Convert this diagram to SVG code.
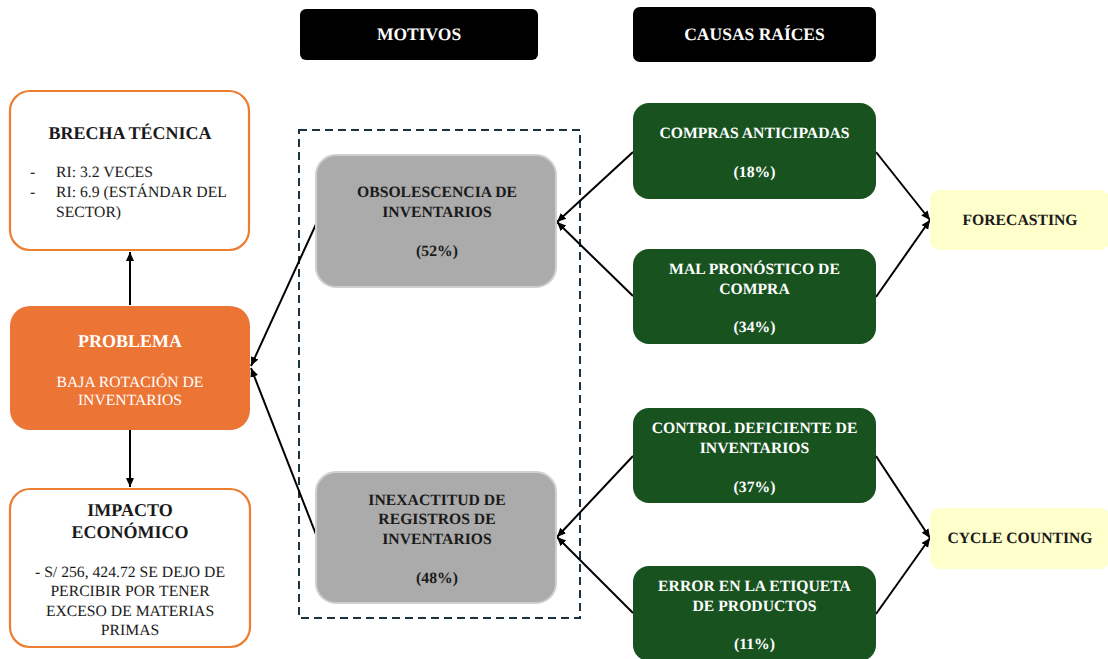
<svg xmlns="http://www.w3.org/2000/svg" width="1108" height="659" viewBox="0 0 1108 659" font-family="'Liberation Serif', 'Times New Roman', 'DejaVu Serif', serif" text-rendering="geometricPrecision">
<style>
text{font-family:'Liberation Serif','Times New Roman','DejaVu Serif',serif;text-anchor:middle}
.b{font-weight:bold}
.t{font-size:18px;font-weight:bold}
.s{font-size:15.7px}
.w{fill:#ffffff}
.k{fill:#1a1a1a}
.hdr{fill:#000000}
.gray{fill:#ABABAB;stroke:#CFCFCF;stroke-width:2}
.green{fill:#17521F}
.yellow{fill:#FFFFCC}
.obox{fill:#ffffff;stroke:#ED7D31;stroke-width:2.2}
.con{stroke:#000;stroke-width:2;fill:none;marker-end:url(#ah)}
</style>
<defs>
<marker id="ah" markerWidth="10" markerHeight="10" refX="9" refY="5" orient="auto" markerUnits="userSpaceOnUse">
<path d="M0,1 L9,5 L0,9 Z" fill="#000"/>
</marker>
</defs>
<rect width="1108" height="659" fill="#ffffff"/>

<g id="headers">
<g id="h-motivos"><rect x="300" y="9" width="238" height="51" rx="6" class="hdr"/><text x="419" y="40" class="w" font-size="17.5" font-weight="bold">MOTIVOS</text></g>
<g id="h-causas"><rect x="633" y="7" width="243" height="55" rx="7" class="hdr"/><text x="754.5" y="40" class="w" font-size="17.5" font-weight="bold">CAUSAS RAÍCES</text></g>
</g>

<rect id="motivos-frame" x="299" y="130" width="281" height="488" fill="none" stroke="#1B3444" stroke-width="2" stroke-dasharray="8,5"/>

<g id="connectors">
<line x1="130" y1="305" x2="130" y2="252" class="con"/>
<line x1="130" y1="430" x2="130" y2="487" class="con"/>
<line x1="317" y1="222" x2="251" y2="366" class="con"/>
<line x1="317" y1="537" x2="251" y2="368" class="con"/>
<line x1="633" y1="152" x2="557" y2="222" class="con"/>
<line x1="633" y1="296" x2="557" y2="222" class="con"/>
<line x1="633" y1="456" x2="557" y2="537" class="con"/>
<line x1="633" y1="613" x2="557" y2="537" class="con"/>
<line x1="876" y1="152" x2="930" y2="220" class="con"/>
<line x1="876" y1="297" x2="930" y2="220" class="con"/>
<line x1="876" y1="456" x2="930" y2="538" class="con"/>
<line x1="876" y1="614" x2="930" y2="538" class="con"/>
</g>

<g id="brecha">
<rect x="10" y="91" width="239" height="159" rx="20" class="obox"/>
<text x="130" y="139" class="t k">BRECHA TÉCNICA</text>
<text x="30" y="177" class="s k" style="text-anchor:start">-</text>
<text x="56" y="177" class="s k" style="text-anchor:start">RI: 3.2 VECES</text>
<text x="30" y="197" class="s k" style="text-anchor:start">-</text>
<text x="56" y="197" class="s k" style="text-anchor:start">RI: 6.9 (ESTÁNDAR DEL</text>
<text x="56" y="217" class="s k" style="text-anchor:start">SECTOR)</text>
</g>

<g id="problema">
<rect x="10" y="306" width="240" height="124" rx="20" fill="#EC7434"/>
<text x="130" y="347" class="t w">PROBLEMA</text>
<text x="130" y="387" class="s w">BAJA ROTACIÓN DE</text>
<text x="130" y="405" class="s w">INVENTARIOS</text>
</g>

<g id="impacto">
<rect x="10" y="489" width="240" height="158" rx="20" class="obox"/>
<text x="130" y="516" class="t k">IMPACTO</text>
<text x="130" y="538" class="t k">ECONÓMICO</text>
<text x="130" y="577" class="s k">- S/ 256, 424.72 SE DEJO DE</text>
<text x="130" y="596" class="s k">PERCIBIR POR TENER</text>
<text x="130" y="616" class="s k">EXCESO DE MATERIAS</text>
<text x="130" y="635" class="s k">PRIMAS</text>
</g>

<g id="obsolescencia">
<rect x="316" y="155" width="240" height="132" rx="20" class="gray"/>
<text x="437" y="197" class="s b k">OBSOLESCENCIA DE</text>
<text x="437" y="217" class="s b k">INVENTARIOS</text>
<text x="437" y="256" class="s b k">(52%)</text>
</g>

<g id="inexactitud">
<rect x="316" y="472" width="240" height="131" rx="20" class="gray"/>
<text x="437" y="505" class="s b k">INEXACTITUD DE</text>
<text x="437" y="524" class="s b k">REGISTROS DE</text>
<text x="437" y="544" class="s b k">INVENTARIOS</text>
<text x="437" y="583" class="s b k">(48%)</text>
</g>

<g id="compras">
<rect x="633" y="103" width="243" height="96" rx="16" class="green"/>
<text x="754.5" y="138" class="s b w">COMPRAS ANTICIPADAS</text>
<text x="754.5" y="177" class="s b w">(18%)</text>
</g>

<g id="mal-pronostico">
<rect x="633" y="249" width="243" height="95" rx="16" class="green"/>
<text x="754.5" y="274" class="s b w">MAL PRONÓSTICO DE</text>
<text x="754.5" y="294" class="s b w">COMPRA</text>
<text x="754.5" y="332" class="s b w">(34%)</text>
</g>

<g id="control">
<rect x="633" y="408" width="243" height="95" rx="16" class="green"/>
<text x="754.5" y="433" class="s b w">CONTROL DEFICIENTE DE</text>
<text x="754.5" y="453" class="s b w">INVENTARIOS</text>
<text x="754.5" y="492" class="s b w">(37%)</text>
</g>

<g id="error">
<rect x="633" y="566" width="243" height="95" rx="16" class="green"/>
<text x="754.5" y="591" class="s b w">ERROR EN LA ETIQUETA</text>
<text x="754.5" y="611" class="s b w">DE PRODUCTOS</text>
<text x="754.5" y="649" class="s b w">(11%)</text>
</g>

<g id="forecasting">
<rect x="930" y="190" width="180" height="60" rx="10" class="yellow"/>
<text x="1020" y="225" class="s b k">FORECASTING</text>
</g>

<g id="cycle-counting">
<rect x="930" y="508" width="180" height="61" rx="10" class="yellow"/>
<text x="1020" y="543" class="s b k">CYCLE COUNTING</text>
</g>
</svg>
